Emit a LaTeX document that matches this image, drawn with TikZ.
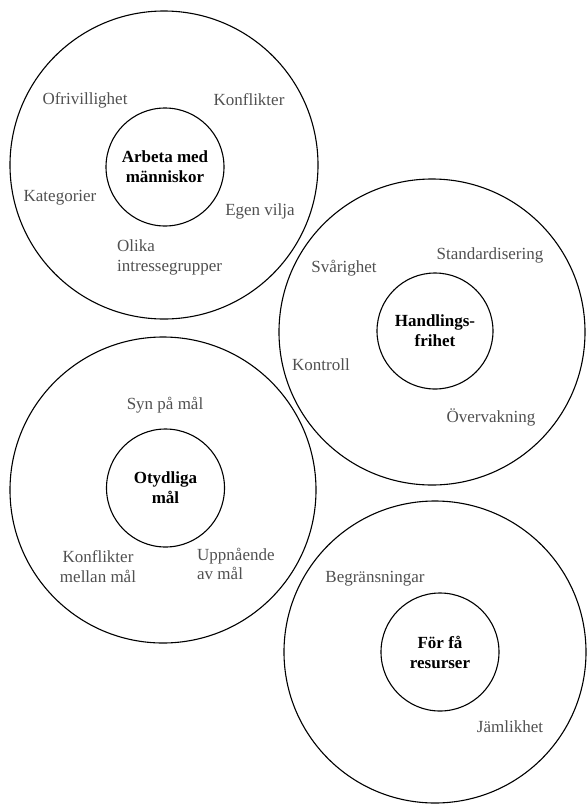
\documentclass[tikz,border=0pt]{standalone}
\usepackage{fontspec}
\setmainfont{Liberation Serif}
\definecolor{labelgray}{HTML}{505050}
\begin{document}
\begin{tikzpicture}[x=1pt,y=-1pt,
  outerring/.style={draw, circle, line width=1.1pt, minimum size=#1, inner sep=0pt},
  core/.style={draw, circle, line width=1.1pt, minimum size=#1, inner sep=0pt,
    align=center, font=\fontsize{17}{20}\selectfont\bfseries},
  lbl/.style={text=labelgray, font=\fontsize{17}{19.5}\selectfont, inner sep=0pt}]
\useasboundingbox (0,0) rectangle (587,804);

% Circle 1
\node[outerring=308pt] (o1) at (164,165) {};
\node[core=118pt] (c1) at (165,167) {Arbeta med\\människor};
\node[lbl] (l11) at (85,100) {Ofrivillighet};
\node[lbl] (l12) at (249,100) {Konflikter};
\node[lbl] (l13) at (60,198) {Kategorier};
\node[lbl] (l14) at (260,211) {Egen vilja};
\node[lbl, align=left, anchor=west] (l15) at (117,257.5) {Olika\\intressegrupper};

% Circle 2
\node[outerring=306pt] (o2) at (432,332) {};
\node[core=116pt] (c2) at (435,331) {Handlings-\\frihet};
\node[lbl] (l21) at (490,255) {Standardisering};
\node[lbl] (l22) at (344,268) {Svårighet};
\node[lbl] (l23) at (321,365) {Kontroll};
\node[lbl] (l24) at (491,417) {Övervakning};

% Circle 3
\node[outerring=306pt] (o3) at (163,490) {};
\node[core=118pt] (c3) at (165.5,488) {Otydliga\\mål};
\node[lbl] (l31) at (165,405) {Syn på mål};
\node[lbl, align=center] (l32) at (98,566.5) {Konflikter\\mellan mål};
\node[lbl, align=left, anchor=west] (l33) at (197,564) {Uppnående\\av mål};

% Circle 4
\node[outerring=302pt] (o4) at (435,652) {};
\node[core=118pt] (c4) at (440,652) {För få\\resurser};
\node[lbl] (l41) at (375,579) {Begränsningar};
\node[lbl] (l42) at (510,727) {Jämlikhet};
\end{tikzpicture}
\end{document}
